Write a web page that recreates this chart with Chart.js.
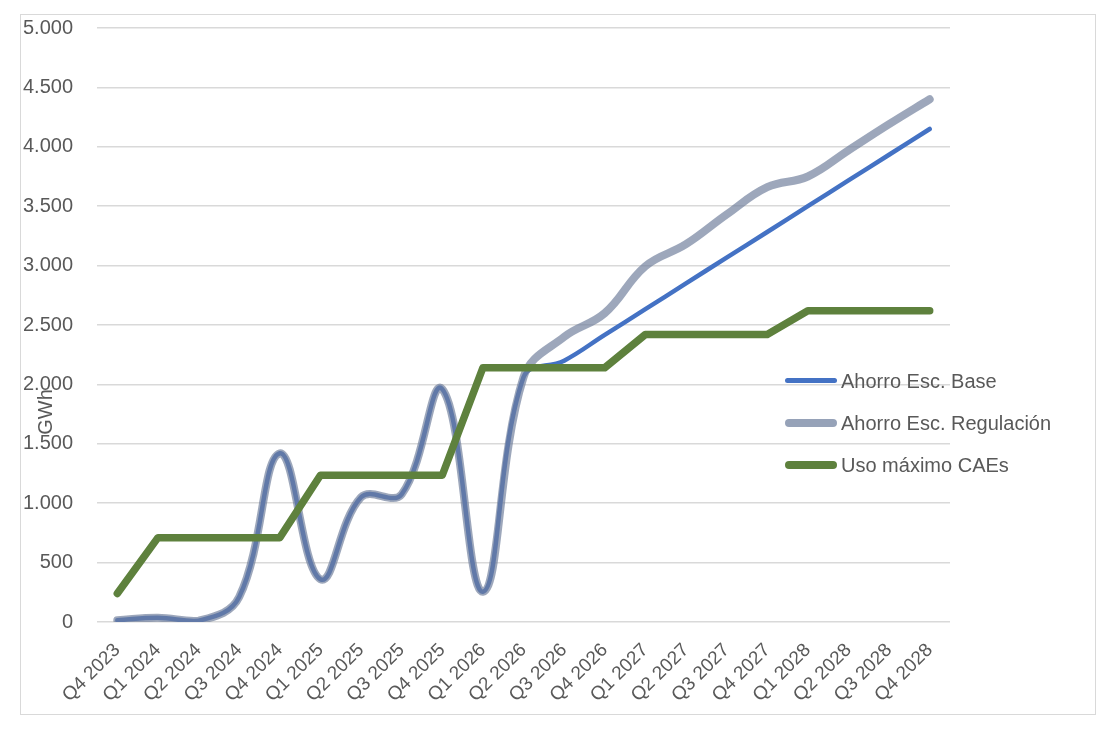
<!DOCTYPE html>
<html>
<head>
<meta charset="utf-8">
<script src="https://cdn.jsdelivr.net/npm/chart.js@4/dist/chart.umd.min.js"></script>
<style>
  html, body { margin: 0; padding: 0; background: #ffffff; }
  #wrap { position: relative; width: 1106px; height: 730px; overflow: hidden; }
  #frame { position: absolute; left: 20px; top: 14px; width: 1074px; height: 699px; border: 1.5px solid #d9d9d9; }
  canvas { position: absolute; left: 0; top: 0; }
  #legend { position: absolute; left: 785px; top: 366px; font-family: "Liberation Sans", Arial, sans-serif; font-size: 20px; color: #595959; }
  .item { position: relative; height: 42px; line-height: 26px; white-space: nowrap; }
  .sw { display: inline-block; width: 52px; vertical-align: middle; border-radius: 4px; margin-right: 4px; }
  .item span.t { vertical-align: middle; }
</style>
</head>
<body>
<div id="wrap">
  <div id="frame"></div>
  <canvas id="c" width="1106" height="730"></canvas>
  <div id="legend"></div>
</div>
<script>
const categories = ["Q4 2023","Q1 2024","Q2 2024","Q3 2024","Q4 2024","Q1 2025","Q2 2025","Q3 2025","Q4 2025","Q1 2026","Q2 2026","Q3 2026","Q4 2026","Q1 2027","Q2 2027","Q3 2027","Q4 2027","Q1 2028","Q2 2028","Q3 2028","Q4 2028"];
const ahorroBase = [15, 35, 10, 210, 1420, 360, 1050, 1075, 1960, 255, 2060, 2200, 2417, 2633, 2850, 3067, 3283, 3500, 3717, 3933, 4150];
const ahorroRegulacion = [15, 35, 10, 210, 1420, 360, 1050, 1075, 1960, 255, 2060, 2400, 2600, 2995, 3180, 3430, 3660, 3750, 3970, 4190, 4400];
const usoMaximoCAEs = [240, 710, 710, 710, 710, 1235, 1235, 1235, 1235, 2140, 2140, 2140, 2140, 2420, 2420, 2420, 2420, 2620, 2620, 2620, 2620];
const yTickLabels = ["0","500","1.000","1.500","2.000","2.500","3.000","3.500","4.000","4.500","5.000"];
const seriesNames = ["Ahorro Esc. Base", "Ahorro Esc. Regulación", "Uso máximo CAEs"];
const yAxisTitle = "GWh";

const FONT = '"Liberation Sans", Arial, sans-serif';
const colBase = "#4472C4";
const colReg = "rgba(110,125,155,0.68)";
const colCAE = "#5E813D";

const titlePlugin = {
  id: 'ytitle',
  afterDraw(chart) {
    const ctx = chart.ctx;
    ctx.save();
    ctx.translate(46, 412);
    ctx.rotate(-Math.PI / 2);
    ctx.font = '20px ' + FONT;
    ctx.fillStyle = '#595959';
    ctx.textAlign = 'center';
    ctx.textBaseline = 'middle';
    ctx.fillText(yAxisTitle, 0, 0);
    ctx.restore();
  }
};

const chart = new Chart(document.getElementById('c'), {
  type: 'line',
  data: {
    labels: categories,
    datasets: [
      { label: seriesNames[0], data: ahorroBase, borderColor: colBase, borderWidth: 4.5, tension: 0.4, order: 2 },
      { label: seriesNames[1], data: ahorroRegulacion, borderColor: colReg, borderWidth: 8, tension: 0.4, order: 1 },
      { label: seriesNames[2], data: usoMaximoCAEs, borderColor: colCAE, borderWidth: 7.5, tension: 0, order: 0 }
    ].map(d => Object.assign(d, { pointRadius: 0, pointHoverRadius: 0, fill: false, borderCapStyle: 'round', borderJoinStyle: 'round' }))
  },
  options: {
    responsive: false,
    animation: false,
    devicePixelRatio: 1,
    layout: { padding: { left: 20, top: 28, right: 156, bottom: 0 } },
    plugins: { legend: { display: false }, tooltip: { enabled: false } },
    scales: {
      x: {
        offset: true,
        grid: { display: false },
        border: { display: false },
        ticks: { minRotation: 45, maxRotation: 45, autoSkip: false, color: '#595959', font: { family: FONT, size: 19 }, padding: 9 },
        afterFit: s => { s.height = 108; s.paddingLeft = 0; s.paddingRight = 0; s.paddingTop = 0; s.paddingBottom = 0; }
      },
      y: {
        min: 0, max: 5000,
        grid: { color: '#d9d9d9', lineWidth: 1.5, drawTicks: false },
        border: { display: false },
        ticks: { stepSize: 500, padding: 24, color: '#595959', font: { family: FONT, size: 20 },
                 callback: (v, i) => yTickLabels[i] },
        afterFit: s => { s.width = 77; s.paddingLeft = 0; s.paddingRight = 0; s.paddingTop = 0; s.paddingBottom = 0; }
      }
    }
  },
  plugins: [titlePlugin]
});

// HTML legend
const legend = document.getElementById('legend');
const legendStyles = [
  { color: colBase, h: 5 },
  { color: 'rgb(150,162,184)', h: 8 },
  { color: colCAE, h: 8 }
];
seriesNames.forEach((name, i) => {
  const item = document.createElement('div');
  item.className = 'item';
  const sw = document.createElement('span');
  sw.className = 'sw';
  sw.style.height = legendStyles[i].h + 'px';
  sw.style.background = legendStyles[i].color;
  const t = document.createElement('span');
  t.className = 't';
  t.textContent = name;
  item.appendChild(sw);
  item.appendChild(t);
  legend.appendChild(item);
});
</script>
</body>
</html>
